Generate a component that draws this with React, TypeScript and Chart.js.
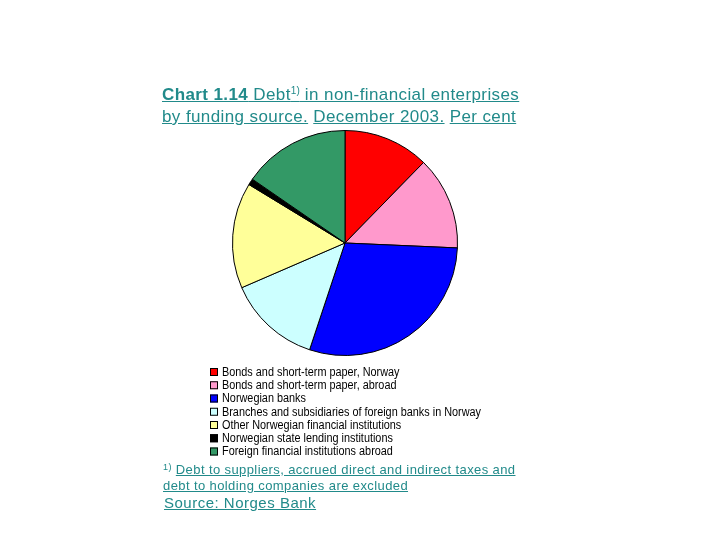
import React, { useEffect, useRef } from "react";
import { Chart, registerables } from "chart.js";

Chart.register(...registerables);

const categories = [
  "Bonds and short-term paper, Norway",
  "Bonds and short-term paper, abroad",
  "Norwegian banks",
  "Branches and subsidiaries of foreign banks in Norway",
  "Other Norwegian financial institutions",
  "Norwegian state lending institutions",
  "Foreign financial institutions abroad",
];
const shares = [12.3, 13.4, 29.4, 13.4, 15.2, 0.9, 15.4];
const colors = ["#FF0000", "#FF99CC", "#0000FF", "#CCFFFF", "#FFFF99", "#000000", "#339966"];

const TEAL = "#218A8A";

const legendPlugin = {
  id: "stackLegend",
  afterDraw(chart: any) {
    const ctx = chart.ctx;
    const labels: string[] = chart.data.labels;
    const bg: string[] = chart.data.datasets[0].backgroundColor;
    ctx.save();
    ctx.font = '12.5px "Liberation Sans", Arial, sans-serif';
    const longest = labels.reduce((a, b) => (ctx.measureText(b).width > ctx.measureText(a).width ? b : a), "");
    const sx = 259 / ctx.measureText(longest).width;
    const x0 = 210;
    const y0 = 372;
    const pitch = 13.25;
    labels.forEach((lab, i) => {
      const y = y0 + i * pitch;
      ctx.fillStyle = bg[i];
      ctx.fillRect(x0, y - 4, 8, 8);
      ctx.strokeStyle = "#000";
      ctx.lineWidth = 1;
      ctx.strokeRect(x0 + 0.5, y - 3.5, 7, 7);
      ctx.save();
      ctx.translate(x0 + 12, y);
      ctx.scale(sx, 1);
      ctx.fillStyle = "#000";
      ctx.textBaseline = "middle";
      ctx.fillText(lab, 0, 0.5);
      ctx.restore();
    });
    ctx.restore();
  },
};

export default function App() {
  const ref = useRef<HTMLCanvasElement>(null);
  useEffect(() => {
    if (!ref.current) return;
    const chart = new Chart(ref.current, {
      type: "pie",
      data: {
        labels: categories,
        datasets: [
          {
            data: shares,
            backgroundColor: colors,
            borderColor: "#000",
            borderWidth: 1,
          },
        ],
      },
      options: {
        animation: false,
        responsive: false,
        rotation: 0,
        layout: { padding: { left: 232, right: 262, top: 130, bottom: 184 } },
        plugins: {
          legend: { display: false },
          tooltip: { enabled: false },
          title: { display: false },
        },
      },
      plugins: [legendPlugin],
    });
    return () => chart.destroy();
  }, []);

  const textBase: React.CSSProperties = {
    position: "absolute",
    fontFamily: '"Liberation Sans", Arial, sans-serif',
    color: TEAL,
    whiteSpace: "nowrap",
  };
  const u: React.CSSProperties = { textDecoration: "underline" };

  return (
    <div style={{ position: "fixed", left: 0, top: 0, width: 720, height: 540, background: "#fff", overflow: "hidden" }}>
      <canvas ref={ref} width={720} height={540} style={{ position: "absolute", left: 0, top: 0 }} />
      <div style={{ ...textBase, left: 162, top: 84, fontSize: 17, lineHeight: "22px", letterSpacing: "0.4px" }}>
        <div>
          <span style={u}>
            <b>Chart 1.14</b> Debt<sup style={{ fontSize: 10, verticalAlign: "6px", lineHeight: 0, letterSpacing: 0 }}>1)</sup> in non-financial enterprises
          </span>
        </div>
        <div>
          <span style={u}>by funding source.</span> <span style={u}>December 2003.</span> <span style={u}>Per cent</span>
        </div>
      </div>
      <div style={{ ...textBase, left: 163, top: 462, fontSize: 13, lineHeight: "16px", letterSpacing: "0.4px" }}>
        <div>
          <sup style={{ fontSize: 9, verticalAlign: "4px", lineHeight: 0 }}>1)</sup>{" "}
          <span style={u}>Debt to suppliers, accrued direct and indirect taxes and</span>
        </div>
        <div>
          <span style={u}>debt to holding companies are excluded</span>
        </div>
      </div>
      <div style={{ ...textBase, left: 164, top: 494, fontSize: 15, lineHeight: "18px", letterSpacing: "0.5px" }}>
        <span style={u}>Source: Norges Bank</span>
      </div>
    </div>
  );
}
